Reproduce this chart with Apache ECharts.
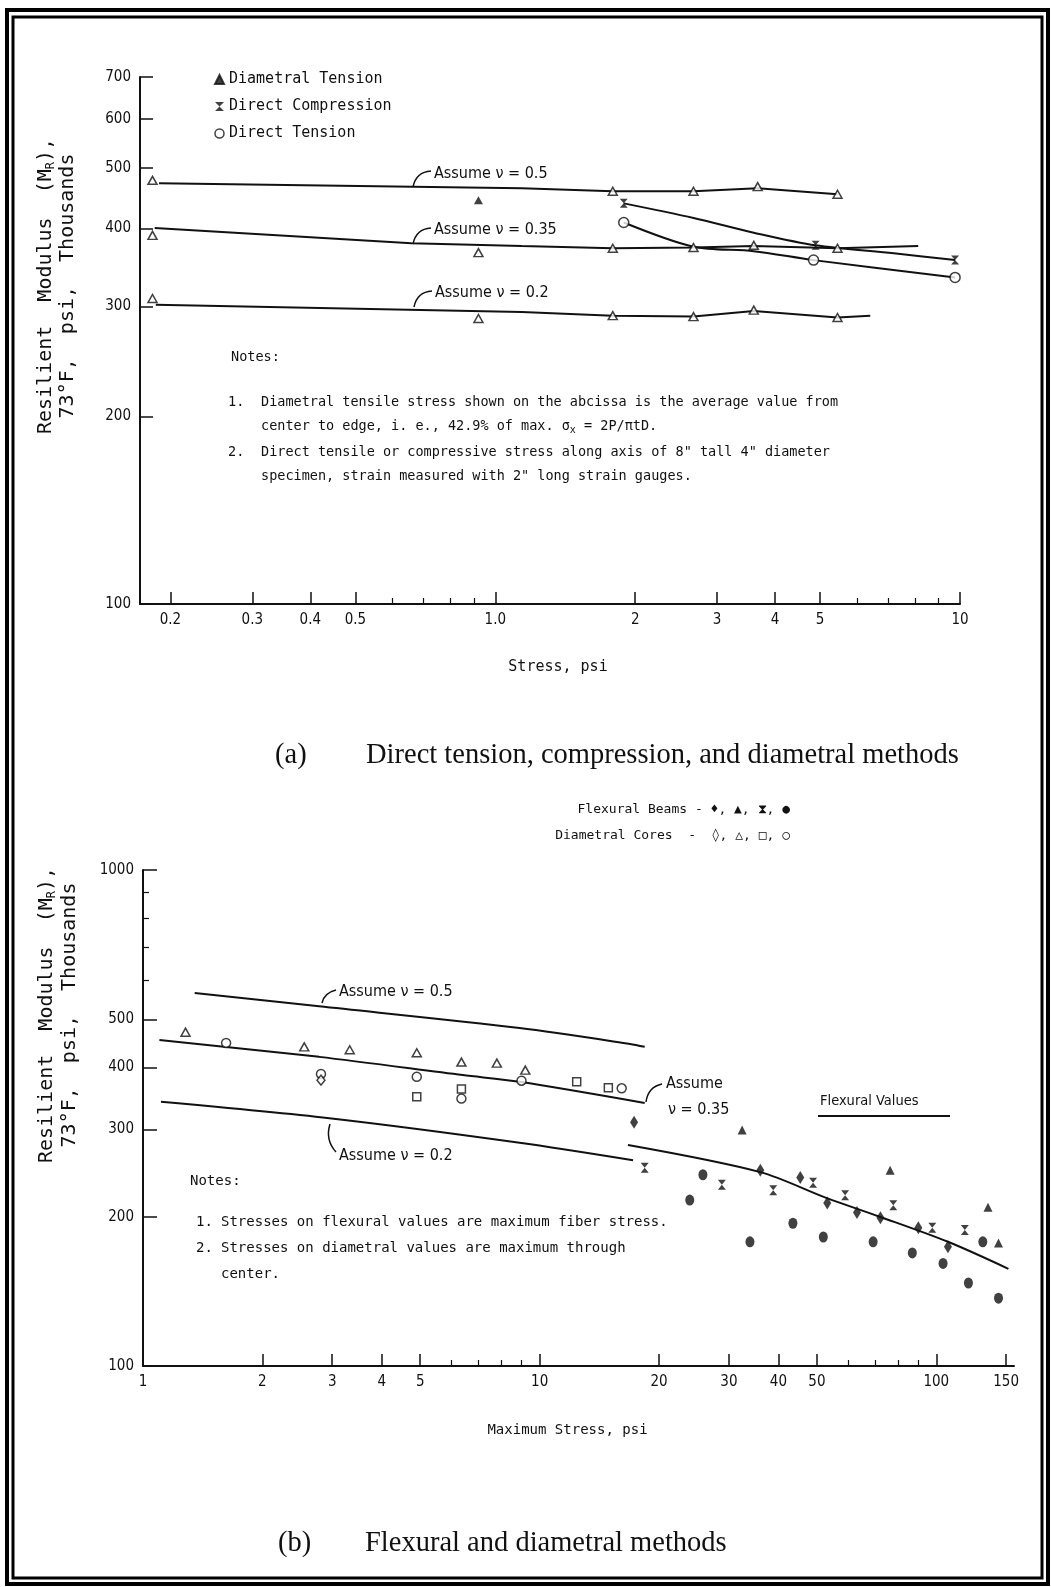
<!DOCTYPE html>
<html>
<head>
<meta charset="utf-8">
<title>Resilient modulus vs stress</title>
<script src="https://cdn.jsdelivr.net/npm/echarts@6/dist/echarts.min.js"></script>
<style>
  html, body { margin: 0; padding: 0; background: #fff; }
  #chart { width: 1051px; height: 1587px; }
</style>
</head>
<body>
<div id="chart"></div>
<script>
// ---- (a) direct tension, compression and diametral methods ----
// stress in psi, resilient modulus in thousands of psi
const topXTicks = [0.2, 0.3, 0.4, 0.5, 1, 2, 3, 4, 5, 10];
const topXTickLabels = ['0.2', '0.3', '0.4', '0.5', '1.0', '2', '3', '4', '5', '10'];
const topXMinorTicks = [0.6, 0.7, 0.8, 0.9, 6, 7, 8, 9];
const topXRange = [0.172, 10];
const topYTicks = [100, 200, 300, 400, 500, 600, 700];
const topYRange = [100, 700];

const nu05Line = [[0.189, 473], [1.14, 464], [1.79, 459], [2.67, 459], [3.67, 464], [5.45, 454]];
const nu035Line = [[0.185, 401], [0.66, 379], [1.14, 375], [1.79, 372], [2.67, 373], [3.6, 375], [5.45, 372], [8.13, 375]];
const nu02Line = [[0.186, 302], [1.14, 294], [1.79, 290], [2.67, 289], [3.6, 295], [5.45, 288], [6.41, 290]];
const diametralTension = [
  [0.183, 478], [1.79, 459], [2.67, 459], [3.67, 467], [5.45, 454],
  [0.183, 390], [0.92, 366], [1.79, 372], [2.67, 373], [3.6, 376], [5.45, 372],
  [0.183, 309], [0.92, 287], [1.79, 290], [2.67, 289], [3.6, 296], [5.45, 288]
];
const diametralTensionSolid = [[0.92, 444]];
const compressionPoints = [[1.89, 439], [4.89, 376], [9.76, 356]];
const compressionCurve = [[1.89, 439], [2.67, 416], [3.6, 394], [4.89, 376], [7.2, 365], [9.76, 356]];
const tensionPoints = [[1.89, 409], [4.84, 356], [9.76, 334]];
const tensionCurve = [[1.89, 409], [2.67, 374], [3.6, 368], [4.84, 356], [9.76, 334]];

// ---- (b) flexural and diametral methods ----
const botXTicks = [1, 2, 3, 4, 5, 10, 20, 30, 40, 50, 100, 150];
const botXTickLabels = ['1', '2', '3', '4', '5', '10', '20', '30', '40', '50', '100', '150'];
const botXMinorTicks = [6, 7, 8, 9, 60, 70, 80, 90];
const botXRange = [1, 157];
const botYTicks = [100, 200, 300, 400, 500, 1000];
const botYMinorTicks = [600, 700, 800, 900];
const botYRange = [100, 1000];

const b05Line = [[1.35, 565], [2.78, 531], [8.9, 480], [16.9, 446], [18.4, 440]];
const b035Line = [[1.1, 454], [2.78, 420], [6.4, 386], [8.9, 374], [18.4, 339]];
const b02Line = [[1.11, 341], [2.95, 316], [8.9, 282], [17.2, 260]];
const flexLine = [[16.7, 279], [36, 246], [53, 218], [72, 200], [107, 178], [152, 157]];

const coreTriangles = [[1.28, 471], [2.55, 440], [3.32, 434], [4.9, 428], [6.35, 410], [7.8, 408], [9.2, 395]];
const coreCircles = [[1.62, 448], [2.81, 388], [4.9, 383], [6.35, 346], [9.0, 376], [16.1, 363]];
const coreSquares = [[4.9, 349], [6.35, 362], [12.4, 374], [14.9, 364]];
const coreDiamonds = [[2.81, 377]];
const beamDiamonds = [[17.3, 310], [36, 248], [45.4, 240], [53.1, 213], [63.1, 204], [72.3, 199], [90.1, 190], [107, 174]];
const beamTriangles = [[32.4, 299], [76.5, 248], [135, 209], [143.5, 177]];
const beamHourglass = [[18.4, 251], [28.8, 232], [38.8, 226], [48.9, 234], [58.9, 221], [77.9, 211], [97.7, 190], [118, 188]];
const beamCircles = [[25.8, 243], [23.9, 216], [33.9, 178], [43.5, 194], [51.9, 182], [69.3, 178], [87, 169], [104, 161], [131, 178], [120.5, 147], [143.5, 137]];

const INK = '#111';
const SANS = '"DejaVu Sans Condensed", "Liberation Sans Narrow", "DejaVu Sans", sans-serif';
const MONO = '"DejaVu Sans Mono", "Liberation Mono", monospace';
const SERIF = '"Liberation Serif", "DejaVu Serif", serif';
const HOURGLASS = 'path://M0,0L10,0L5,5L10,10L0,10L5,5Z';

const lg = v => Math.log10(v);
const lgPts = pts => pts.map(p => [lg(p[0]), lg(p[1])]);
const tickFmt = (ticks, labels) => v => {
  const i = ticks.findIndex(t => Math.abs(lg(t) - v) < 1e-6);
  return i >= 0 ? labels[i] : '';
};

const gridA = { left: 140, top: 77, width: 820, height: 527 };
const gridB = { left: 143, top: 870, width: 871, height: 496 };

function mainAxis(grid, range, ticks, labels, opts) {
  return Object.assign({
    gridIndex: grid, type: 'value', min: lg(range[0]), max: lg(range[1]),
    splitLine: { show: false },
    axisLine: { onZero: false, lineStyle: { color: INK, width: 2 } },
    axisTick: { inside: true, length: 12, customValues: ticks.map(lg), lineStyle: { color: INK, width: 1.5 } },
    axisLabel: { customValues: ticks.map(lg), formatter: tickFmt(ticks, labels), color: INK, fontSize: 15, fontFamily: SANS, margin: 9 }
  }, opts || {});
}
function minorAxis(grid, range, ticks) {
  return {
    gridIndex: grid, type: 'value', min: lg(range[0]), max: lg(range[1]),
    splitLine: { show: false }, axisLine: { show: false, onZero: false }, axisLabel: { show: false },
    axisTick: ticks ? { inside: true, length: 6, customValues: ticks.map(lg), lineStyle: { color: INK, width: 1.2 } } : { show: false }
  };
}
function curve(name, pts, xi, smooth) {
  return {
    name: name, type: 'line', xAxisIndex: xi, yAxisIndex: xi, data: lgPts(pts), showSymbol: false,
    smooth: smooth, lineStyle: { color: INK, width: 2 }, z: 2, silent: true
  };
}
function dots(name, pts, xi, symbol, size, hollow) {
  return {
    name: name, type: 'scatter', xAxisIndex: xi, yAxisIndex: xi, data: lgPts(pts), symbol: symbol, symbolSize: size, z: 4,
    itemStyle: hollow ? { color: '#fff', borderColor: INK, borderWidth: 1.5 } : { color: INK }
  };
}
function txt(x, y, text, size, extra) {
  return { type: 'text', x: x, y: y, z: 10,
    style: Object.assign({ text: text, fill: INK, fontSize: size, fontFamily: SANS, verticalAlign: 'middle' }, extra || {}) };
}
function note(x, y, text, size, extra) {
  return txt(x, y, text, size, Object.assign({ fontFamily: MONO }, extra || {}));
}
function leader(x1, y1, x2, y2, cx, cy) {
  return { type: 'bezierCurve', z: 10, shape: { x1: x1, y1: y1, x2: x2, y2: y2, cpx1: cx, cpy1: cy },
    style: { stroke: INK, lineWidth: 1.5, fill: 'none' } };
}
const yName = {
  a: { fontSize: 20, fontFamily: MONO, fill: INK },
  s: { fontSize: 12, fontFamily: MONO, fill: INK, padding: [10, 0, 0, 0] }
};
function yTitle(x1, x2, y) {
  return [
    { type: 'text', x: x1, y: y, rotation: Math.PI / 2, z: 10,
      style: { text: '{a|Resilient  Modulus  (M}{s|R}{a|),}', rich: yName, align: 'center', verticalAlign: 'middle' } },
    { type: 'text', x: x2, y: y, rotation: Math.PI / 2, z: 10,
      style: { text: '73°F,  psi,  Thousands', fontSize: 20, fontFamily: MONO, fill: INK, align: 'center', verticalAlign: 'middle' } }
  ];
}
const sigmaRich = {
  a: { fontSize: 13.5, fontFamily: MONO, fill: INK },
  s: { fontSize: 10, fontFamily: MONO, fill: INK, padding: [8, 0, 0, 0] }
};

const chart = echarts.init(document.getElementById('chart'));
chart.setOption({
  backgroundColor: '#fff',
  animation: false,
  grid: [gridA, gridB, gridA, gridB],
  xAxis: [
    mainAxis(0, topXRange, topXTicks, topXTickLabels, {
      name: 'Stress, psi', nameLocation: 'middle', nameGap: 56,
      nameTextStyle: { color: INK, fontSize: 15, fontFamily: MONO, padding: [0, 0, 0, 16] }
    }),
    mainAxis(1, botXRange, botXTicks, botXTickLabels, {
      name: 'Maximum Stress, psi', nameLocation: 'middle', nameGap: 57,
      nameTextStyle: { color: INK, fontSize: 14, fontFamily: MONO, padding: [0, 22, 0, 0] }
    }),
    minorAxis(2, topXRange, topXMinorTicks),
    minorAxis(3, botXRange, botXMinorTicks)
  ],
  yAxis: [
    mainAxis(0, topYRange, topYTicks, topYTicks.map(String), { axisTick: { inside: true, length: 13, customValues: topYTicks.map(lg), lineStyle: { color: INK, width: 1.5 } } }),
    mainAxis(1, botYRange, botYTicks, botYTicks.map(String), { axisTick: { inside: true, length: 14, customValues: botYTicks.map(lg), lineStyle: { color: INK, width: 1.5 } } }),
    minorAxis(2, topYRange, null),
    minorAxis(3, botYRange, botYMinorTicks)
  ],
  legend: {
    left: 209, top: 67, orient: 'vertical', itemGap: 12, itemWidth: 9, itemHeight: 9,
    selectedMode: false,
    textStyle: { color: INK, fontSize: 15, fontFamily: MONO },
    data: [
      { name: 'Diametral Tension', icon: 'triangle', itemStyle: { color: INK } },
      { name: 'Direct Compression', icon: HOURGLASS, itemStyle: { color: INK } },
      { name: 'Direct Tension', icon: 'circle', itemStyle: { color: '#fff', borderColor: INK, borderWidth: 1.5 } }
    ]
  },
  series: [
    dots('Diametral Tension', diametralTension, 0, 'triangle', [9, 8], true),
    dots('Diametral Tension (solid)', diametralTensionSolid, 0, 'triangle', [9, 8], false),
    dots('Direct Compression', compressionPoints, 0, HOURGLASS, [8, 9], false),
    dots('Direct Tension', tensionPoints, 0, 'circle', 10, true),
    curve('Assume ν = 0.5 (a)', nu05Line, 0, false),
    curve('Assume ν = 0.35 (a)', nu035Line, 0, false),
    curve('Assume ν = 0.2 (a)', nu02Line, 0, false),
    curve('Direct Compression curve', compressionCurve, 0, 0.3),
    curve('Direct Tension curve', tensionCurve, 0, 0.3),

    curve('Assume ν = 0.5 (b)', b05Line, 1, 0.3),
    curve('Assume ν = 0.35 (b)', b035Line, 1, 0.3),
    curve('Assume ν = 0.2 (b)', b02Line, 1, 0.3),
    curve('Flexural Values', flexLine, 1, 0.3),
    dots('Diametral Cores △', coreTriangles, 1, 'triangle', [9, 8], true),
    dots('Diametral Cores ○', coreCircles, 1, 'circle', 9, true),
    dots('Diametral Cores □', coreSquares, 1, 'rect', [8, 8], true),
    dots('Diametral Cores ◊', coreDiamonds, 1, 'diamond', [8, 10], true),
    dots('Flexural Beams ♦', beamDiamonds, 1, 'diamond', [8, 13], false),
    dots('Flexural Beams ▲', beamTriangles, 1, 'triangle', [9, 9], false),
    dots('Flexural Beams ⧗', beamHourglass, 1, HOURGLASS, [8, 10], false),
    dots('Flexural Beams ●', beamCircles, 1, 'circle', [9, 11], false)
  ],
  graphic: [
    // scanned page frame
    { type: 'rect', z: 20, shape: { x: 7, y: 10, width: 1041, height: 1574 }, style: { fill: 'none', stroke: '#000', lineWidth: 4 } },
    { type: 'rect', z: 20, shape: { x: 13, y: 17, width: 1029, height: 1561 }, style: { fill: 'none', stroke: '#000', lineWidth: 3 } },

    ...yTitle(46, 68, 286),
    ...yTitle(47, 70, 1015),

    // (a) annotations
    leader(413, 187, 431, 171, 416, 172), txt(434, 174, 'Assume ν = 0.5', 16),
    leader(413, 244, 431, 228, 416, 229), txt(434, 230, 'Assume ν = 0.35', 16),
    leader(414, 307, 432, 291, 417, 292), txt(435, 293, 'Assume ν = 0.2', 16),
    note(231, 357, 'Notes:', 13.5),
    note(228, 402, '1.', 13.5), note(261, 402, 'Diametral tensile stress shown on the abcissa is the average value from', 13.5),
    { type: 'text', x: 261, y: 426, z: 10,
      style: { text: '{a|center to edge, i. e., 42.9% of max. σ}{s|x}{a| = 2P/πtD.}', rich: sigmaRich, verticalAlign: 'middle' } },
    note(228, 452, '2.', 13.5), note(261, 452, 'Direct tensile or compressive stress along axis of 8" tall 4" diameter', 13.5),
    note(261, 476, 'specimen, strain measured with 2" long strain gauges.', 13.5),
    txt(275, 756, '(a)', 28.5, { fontFamily: SERIF }),
    txt(366, 756, 'Direct tension, compression, and diametral methods', 28.5, { fontFamily: SERIF }),

    // (b) annotations
    note(790, 810, 'Flexural Beams - ♦, ▲, ⧗, ●', 13, { align: 'right' }),
    note(790, 836, 'Diametral Cores  -  ◊, △, □, ○', 13, { align: 'right' }),
    leader(322, 1003, 336, 990, 324, 993), txt(339, 992, 'Assume ν = 0.5', 16),
    leader(330, 1124, 336, 1152, 325, 1140), txt(339, 1156, 'Assume ν = 0.2', 16),
    leader(646, 1102, 662, 1084, 648, 1087), txt(666, 1084, 'Assume', 16), txt(668, 1110, 'ν = 0.35', 16),
    txt(820, 1101, 'Flexural Values', 14.5),
    { type: 'line', z: 10, shape: { x1: 818, y1: 1116, x2: 950, y2: 1116 }, style: { stroke: INK, lineWidth: 2 } },
    note(190, 1181, 'Notes:', 14),
    note(196, 1222, '1.', 14), note(221, 1222, 'Stresses on flexural values are maximum fiber stress.', 14),
    note(196, 1248, '2.', 14), note(221, 1248, 'Stresses on diametral values are maximum through', 14),
    note(221, 1274, 'center.', 14),
    txt(278, 1544, '(b)', 28.5, { fontFamily: SERIF }),
    txt(365, 1544, 'Flexural and diametral methods', 28.5, { fontFamily: SERIF })
  ]
});
</script>
</body>
</html>
